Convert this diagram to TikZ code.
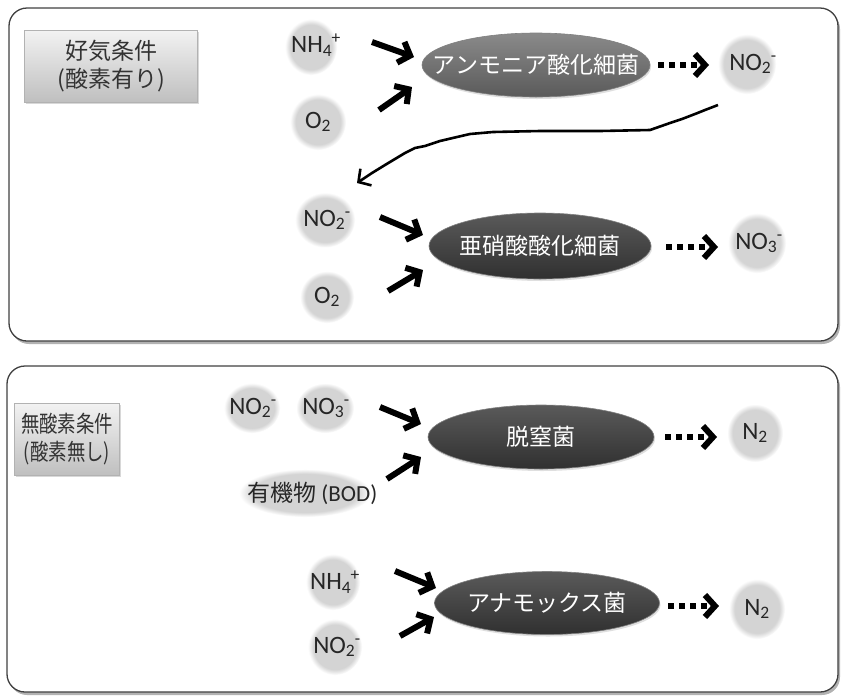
\documentclass[tikz,border=0pt]{standalone}
\usepackage{fontspec}
\setmainfont{Carlito}
\newfontfamily\jp{Noto Sans CJK JP}
\usetikzlibrary{shapes.geometric,arrows.meta,shadows}
\definecolor{blobc}{HTML}{D4D4D4}
\definecolor{darkA}{HTML}{5A5A5A}
\definecolor{darkB}{HTML}{303030}
\definecolor{midA}{HTML}{8A8A8A}
\definecolor{midB}{HTML}{5A5A5A}
\pgfdeclareradialshading{softblob}{\pgfpoint{0bp}{0bp}}{color(0bp)=(blobc); color(20bp)=(blobc); color(25bp)=(white); color(50bp)=(white)}
\newcommand{\chem}[3]{#1\textsubscript{#2}\kern-0.5pt\textsuperscript{#3}}
\tikzset{
  panel/.style={draw=black!75, line width=1.3pt, rounded corners=18pt, fill=white},
  panelshadow/.style={fill=black!30, rounded corners=18pt},
  blob/.style 2 args={ellipse, shading=softblob, minimum width=#1, minimum height=#2, inner sep=0pt},
  chemtxt/.style={font=\fontsize{25}{25}\selectfont, inner sep=0pt, text=black!85},
  bact/.style 2 args={ellipse, minimum width=#1, minimum height=#2, inner sep=0pt, top color=darkA, bottom color=darkB, draw=black!50, line width=0.6pt, drop shadow={opacity=0.25, shadow xshift=1pt, shadow yshift=-2pt}},
  bactmid/.style={top color=midA, bottom color=midB},
  btext/.style={text=white, font=\jp\fontsize{23}{23}\selectfont, inner sep=0pt},
  condbox/.style={draw=black!30, top color=black!5, bottom color=black!25, inner sep=0pt, drop shadow={opacity=0.3, shadow xshift=1pt, shadow yshift=-2pt}},
  condtxt/.style={font=\jp\fontsize{23}{28}\selectfont, align=center, text=black!80},
  boldarrow/.style={line width=6pt, -{Straight Barb[length=10pt,width=22pt,line width=6pt]}},
  dotarrow/.style={line width=6pt, dash pattern=on 6pt off 5pt, -{Straight Barb[length=10pt,width=22pt,line width=6pt]}},
  handarrow/.style={line width=2.6pt, line join=round, -{Straight Barb[length=9pt,width=20pt,line width=2.6pt]}}
}
\begin{document}
\begin{tikzpicture}[x=1pt,y=-1pt]
\useasboundingbox (0,0) rectangle (842,697);
% panels
\fill[panelshadow] (11,11) rectangle (840,344);
\draw[panel] (9,8) rectangle (838,341);
\fill[panelshadow] (9,369) rectangle (840,695);
\draw[panel] (7,366) rectangle (838,692);

% condition boxes
\node[condbox, minimum width=173pt, minimum height=72pt] (cond1) at (111,66) {};
\node[condtxt] (cond1t) at (cond1) {好気条件\\(酸素有り)};
\node[condbox, minimum width=105pt, minimum height=72pt] (cond2) at (67,439) {};
\node[condtxt] (cond2t) at (cond2) {\scalebox{0.8}[1]{無酸素条件}\\\scalebox{0.8}[1]{(酸素無し)}};

% ---- row 1
\node[blob={52pt}{56pt}] (r1a) at (311,47) {};
\node[chemtxt] at (316,45) {\chem{NH}{4}{+}};
\node[blob={56pt}{56pt}] (r1b) at (318,122) {};
\node[chemtxt] at (r1b) {\chem{O}{2}{}};
\node[bact={228pt}{64pt}, bactmid] (aob) at (536,65) {};
\node[btext] at (aob) {アンモニア酸化細菌};
\node[blob={58pt}{60pt}] (p1) at (747,64) {};
\node[chemtxt] at (753,64) {\chem{NO}{2}{-}};
\coordinate (a1s) at (372,42); \coordinate (a1e) at (414,57);
\coordinate (a2s) at (379,110); \coordinate (a2e) at (412,87);
\draw[boldarrow] (a1s) -- (a1e);
\draw[boldarrow] (a2s) -- (a2e);
\coordinate (d1s) at (658,65); \coordinate (d1e) at (709,65);
\draw[dotarrow] (d1s) -- (d1e);

% hand-drawn transfer arrow
\coordinate (hs) at (718,105);
\coordinate (he) at (357,183);
\draw[handarrow] (hs) -- (705,110) -- (695,114) -- (682,119) -- (670,123) -- (650,130) -- (600,131) -- (540,131) -- (493,132) -- (470,134) -- (457,137) -- (440,141) -- (425,146) -- (415,148) -- (405,153) -- (395,159) -- (385,165) -- (372,173) -- (he);

% ---- row 2
\node[blob={60pt}{55pt}] (r2a) at (325,220) {};
\node[chemtxt] at (327,220) {\chem{NO}{2}{-}};
\node[blob={54pt}{52pt}] (r2b) at (327,297) {};
\node[chemtxt] at (r2b) {\chem{O}{2}{}};
\node[bact={222pt}{66pt}] (nob) at (540,246) {};
\node[btext] at (nob) {亜硝酸酸化細菌};
\node[blob={58pt}{60pt}] (p2) at (757,243) {};
\node[chemtxt] at (759,243) {\chem{NO}{3}{-}};
\coordinate (b1s) at (380,217); \coordinate (b1e) at (423,235);
\coordinate (b2s) at (388,291); \coordinate (b2e) at (423,270);
\draw[boldarrow] (b1s) -- (b1e);
\draw[boldarrow] (b2s) -- (b2e);
\coordinate (d2s) at (666,247); \coordinate (d2e) at (718,247);
\draw[dotarrow] (d2s) -- (d2e);

% ---- row 3
\node[blob={56pt}{50pt}] (r3a) at (252,408) {};
\node[chemtxt] at (253,408) {\chem{NO}{2}{-}};
\node[blob={58pt}{50pt}] (r3b) at (325,408) {};
\node[chemtxt] at (326,408) {\chem{NO}{3}{-}};
\node[blob={132pt}{48pt}] (r3c) at (305,493) {};
\node[chemtxt, anchor=west, font=\fontsize{23}{23}\selectfont] at (247,493) {{\jp 有機物} (BOD)};
\node[bact={226pt}{64pt}] (den) at (541,437) {};
\node[btext] at (den) {脱窒菌};
\node[blob={56pt}{58pt}] (p3) at (755,433) {};
\node[chemtxt] at (p3) {\chem{N}{2}{}};
\coordinate (c1s) at (380,407); \coordinate (c1e) at (421,424);
\coordinate (c2s) at (387,479); \coordinate (c2e) at (421,457);
\draw[boldarrow] (c1s) -- (c1e);
\draw[boldarrow] (c2s) -- (c2e);
\coordinate (d3s) at (665,437); \coordinate (d3e) at (717,437);
\draw[dotarrow] (d3s) -- (d3e);

% ---- row 4
\node[blob={54pt}{56pt}] (r4a) at (333,582) {};
\node[chemtxt] at (335,582) {\chem{NH}{4}{+}};
\node[blob={54pt}{56pt}] (r4b) at (335,647) {};
\node[chemtxt] at (337,647) {\chem{NO}{2}{-}};
\node[bact={225pt}{63pt}] (anx) at (547,603) {};
\node[btext] at (anx) {アナモックス菌};
\node[blob={56pt}{60pt}] (p4) at (757,609) {};
\node[chemtxt] at (p4) {\chem{N}{2}{}};
\coordinate (e1s) at (395,571); \coordinate (e1e) at (436,588);
\coordinate (e2s) at (400,636); \coordinate (e2e) at (434,617);
\draw[boldarrow] (e1s) -- (e1e);
\draw[boldarrow] (e2s) -- (e2e);
\coordinate (d4s) at (668,606); \coordinate (d4e) at (719,606);
\draw[dotarrow] (d4s) -- (d4e);
\end{tikzpicture}
\end{document}
